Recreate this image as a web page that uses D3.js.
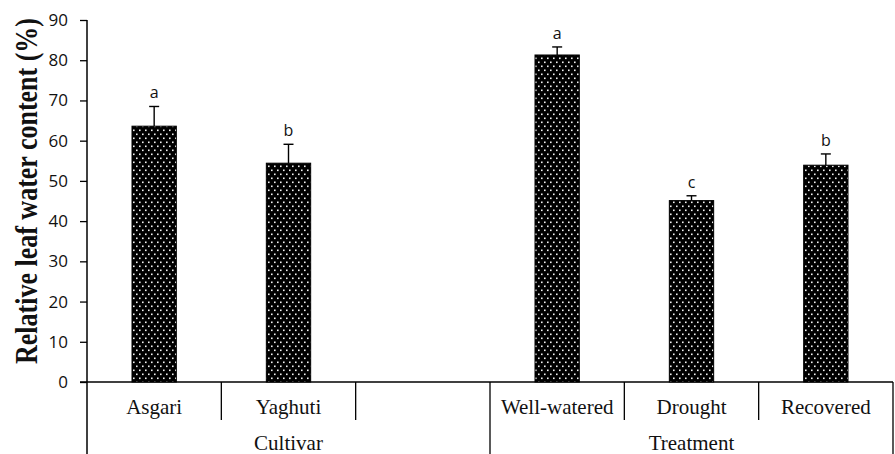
<!DOCTYPE html>
<html>
<head>
<meta charset="utf-8">
<script src="https://cdn.jsdelivr.net/npm/d3@7"></script>
<style>
  html, body { margin: 0; padding: 0; background: #fff; }
  svg { display: block; }
</style>
</head>
<body>
<svg id="chart" width="895" height="454"></svg>
<script>
// Relative leaf water content by cultivar and by water treatment
const categories = ["Asgari", "Yaghuti", "", "Well-watered", "Drought", "Recovered"];
const values = [63.6, 54.4, null, 81.3, 45.1, 53.9];
const errors = [4.9, 4.7, null, 2.0, 1.2, 2.8];
const letters = ["a", "b", "", "a", "c", "b"];
const groups = ["Cultivar", "Treatment"];
const groupSpans = [3, 3];
const yTicks = [0, 10, 20, 30, 40, 50, 60, 70, 80, 90];
const yTitle = "Relative leaf water content (%)";

const svg = d3.select("#chart");
const plotLeft = 87, plotRight = 893, plotTop = 20, base = 382, plotBottom = 454;

const x = d3.scaleBand().domain(d3.range(categories.length)).range([plotLeft, plotRight]).padding(0);
const y = d3.scaleLinear().domain([0, 90]).range([base, plotTop]);
const barW = x.bandwidth() * 0.33;

// dotted fill for bars
const defs = svg.append("defs");
const pat = defs.append("pattern")
  .attr("id", "dots").attr("patternUnits", "userSpaceOnUse")
  .attr("width", 6).attr("height", 8);
pat.append("rect").attr("width", 6).attr("height", 8).attr("fill", "#000");
pat.append("rect").attr("x", 1).attr("y", 1.5).attr("width", 1.6).attr("height", 1.6).attr("fill", "#f2f2f2");
pat.append("rect").attr("x", 4).attr("y", 5.5).attr("width", 1.6).attr("height", 1.6).attr("fill", "#f2f2f2");

// y axis
const yAxis = d3.axisLeft(y).tickValues(yTicks).tickSize(7).tickPadding(12).tickFormat(d3.format("d"));
const gy = svg.append("g").attr("transform", `translate(${plotLeft},0)`).call(yAxis);
gy.select(".domain").remove();
gy.selectAll(".tick line").attr("stroke", "#000").attr("stroke-width", 1.3);
gy.selectAll(".tick text")
  .attr("font-family", "'Open Sans', sans-serif").attr("font-size", 17).attr("fill", "#111");
svg.append("line").attr("x1", plotLeft).attr("x2", plotLeft).attr("y1", plotTop).attr("y2", plotBottom)
  .attr("stroke", "#000").attr("stroke-width", 1.5);

// x axis baseline
svg.append("line").attr("x1", plotLeft - 7).attr("x2", plotRight).attr("y1", base).attr("y2", base)
  .attr("stroke", "#000").attr("stroke-width", 1.5);

// bars
const data = categories.map((c, i) => ({ i, c, v: values[i], e: errors[i], l: letters[i] }))
  .filter(d => d.v !== null);

svg.append("g").selectAll("rect").data(data).join("rect")
  .attr("x", d => x(d.i) + (x.bandwidth() - barW) / 2)
  .attr("y", d => y(d.v))
  .attr("width", barW)
  .attr("height", d => base - y(d.v))
  .attr("fill", "url(#dots)")
  .attr("stroke", "#000").attr("stroke-width", 1);

// error bars (upper only)
const eb = svg.append("g").attr("stroke", "#000").attr("stroke-width", 1.4);
eb.selectAll("line.v").data(data).join("line").attr("class", "v")
  .attr("x1", d => x(d.i) + x.bandwidth() / 2).attr("x2", d => x(d.i) + x.bandwidth() / 2)
  .attr("y1", d => y(d.v)).attr("y2", d => y(d.v + d.e));
eb.selectAll("line.c").data(data).join("line").attr("class", "c")
  .attr("x1", d => x(d.i) + x.bandwidth() / 2 - 5).attr("x2", d => x(d.i) + x.bandwidth() / 2 + 5)
  .attr("y1", d => y(d.v + d.e)).attr("y2", d => y(d.v + d.e));

// significance letters
svg.append("g").selectAll("text").data(data).join("text")
  .attr("x", d => x(d.i) + x.bandwidth() / 2)
  .attr("y", d => y(d.v + d.e) - 8)
  .attr("text-anchor", "middle")
  .attr("font-family", "'Open Sans', sans-serif").attr("font-size", 16).attr("fill", "#111")
  .text(d => d.l);

// category labels
svg.append("g").selectAll("text").data(categories).join("text")
  .attr("x", (d, i) => x(i) + x.bandwidth() / 2)
  .attr("y", 414)
  .attr("text-anchor", "middle")
  .attr("font-family", "'Liberation Serif', 'Times New Roman', serif").attr("font-size", 21).attr("fill", "#111")
  .text(d => d);

// category and group separators
const groupEdges = [0];
groupSpans.forEach((s, k) => groupEdges.push(groupEdges[k] + s));
const minorEdges = d3.range(1, categories.length).filter(i => !groupEdges.includes(i));
const edgeX = i => i < categories.length ? x(i) : plotRight;
svg.append("g").selectAll("line").data(minorEdges).join("line")
  .attr("x1", edgeX).attr("x2", edgeX).attr("y1", base).attr("y2", 420)
  .attr("stroke", "#000").attr("stroke-width", 1.3);
svg.append("g").selectAll("line").data(groupEdges.slice(1)).join("line")
  .attr("x1", edgeX).attr("x2", edgeX)
  .attr("y1", base).attr("y2", plotBottom)
  .attr("stroke", "#000").attr("stroke-width", 1.3);

// group labels
svg.append("g").selectAll("text").data(groups).join("text")
  .attr("x", (g, k) => (edgeX(groupEdges[k]) + edgeX(groupEdges[k + 1])) / 2)
  .attr("y", 450)
  .attr("text-anchor", "middle")
  .attr("font-family", "'Liberation Serif', 'Times New Roman', serif").attr("font-size", 21).attr("fill", "#111")
  .text(g => g);

// y axis title (glyphs drawn slightly taller than wide)
svg.append("text")
  .attr("transform", `translate(37,${(plotTop + 362) / 2}) rotate(-90) scale(1,1.22)`)
  .attr("text-anchor", "middle")
  .attr("font-family", "'Liberation Serif', 'Times New Roman', serif")
  .attr("font-weight", "bold").attr("font-size", 26).attr("fill", "#111")
  .text(yTitle);
</script>
</body>
</html>
